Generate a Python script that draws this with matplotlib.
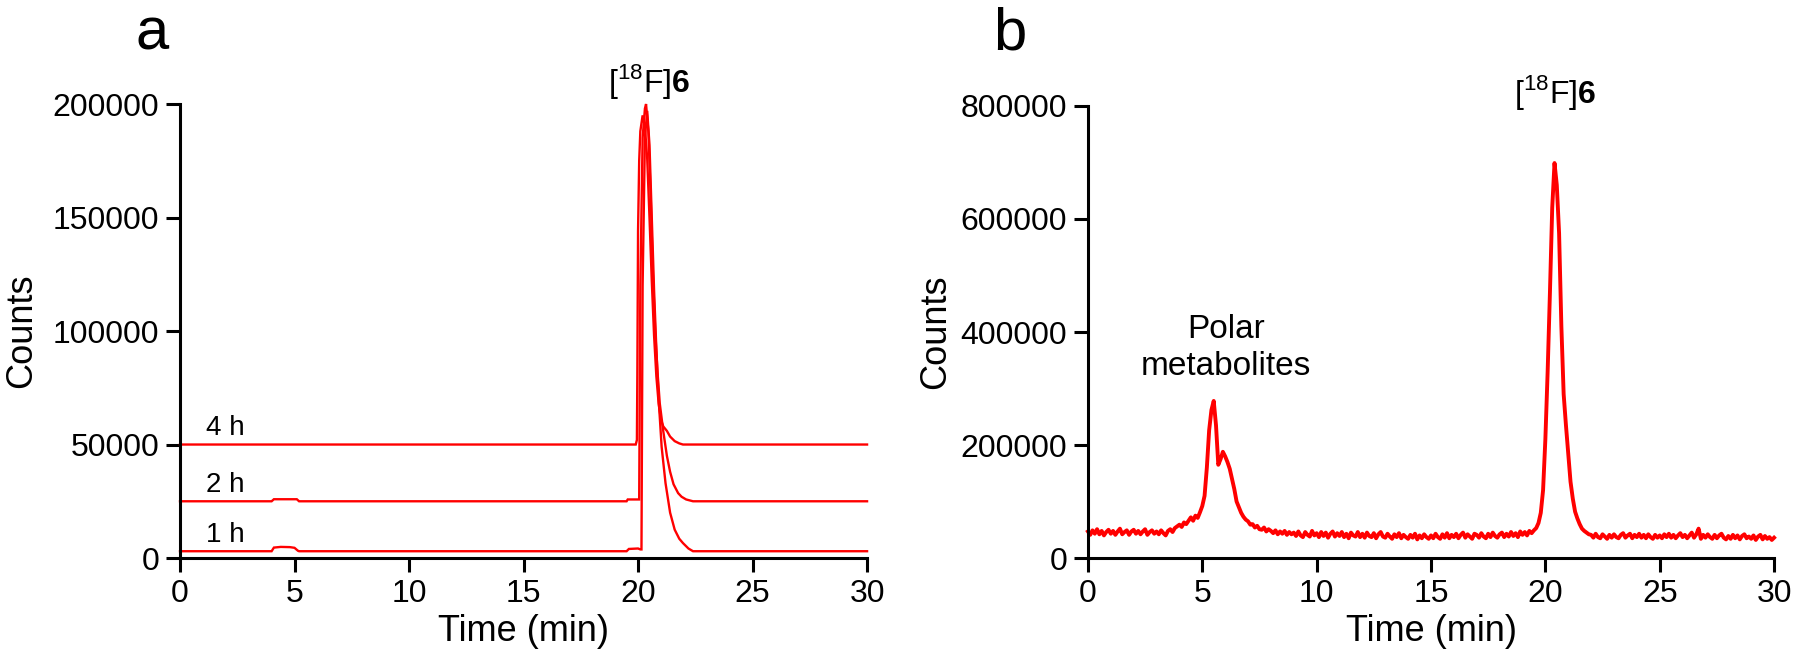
import numpy as np
import matplotlib
matplotlib.use('Agg')
import matplotlib.pyplot as plt
from matplotlib.ticker import FuncFormatter

plt.rcParams['font.family'] = ['Liberation Sans', 'DejaVu Sans']
plt.rcParams['mathtext.fontset'] = 'custom'
plt.rcParams['mathtext.rm'] = 'Liberation Sans'
plt.rcParams['mathtext.bf'] = 'Liberation Sans:bold'

RED = '#ff0000'

# panel a: radio-HPLC traces at 1 h, 2 h and 4 h (time in min, counts)
t_1h = [0, 4.0, 4.1, 4.4, 4.8, 5.0, 5.15, 5.2, 19.5, 19.6, 20.0, 20.1, 20.15, 20.2,
        20.3, 20.4, 20.5, 20.6, 20.7, 20.8, 20.9, 21.03, 21.2, 21.4, 21.6, 21.8,
        21.96, 22.2, 22.4, 30]
c_1h = [3000, 3000, 4600, 4900, 4800, 4500, 3200, 3000, 3000, 4000, 4200, 3800, 3800, 120000,
        185000, 197000, 182000, 150000, 118000, 92000, 70000, 49000, 33000, 20000, 12500, 8500,
        6600, 4200, 3000, 3000]

t_2h = [0, 4.0, 4.1, 5.1, 5.2, 19.5, 19.55, 20.05, 20.1, 20.2, 20.3, 20.35, 20.45, 20.55,
        20.65, 20.75, 20.85, 20.95, 21.1, 21.26, 21.4, 21.55, 21.75, 21.9, 22.1, 22.4, 30]
c_2h = [25000, 25000, 25900, 25900, 25000, 25000, 25800, 25800, 120000, 185000, 198000, 200000,
        188000, 160000, 125000, 100000, 82000, 68000, 56000, 45000, 38000, 32500, 28600, 27000,
        25800, 25000, 25000]

t_4h = [0, 19.9, 19.95, 19.97, 20.0, 20.05, 20.1, 20.2, 20.3, 20.4, 20.5, 20.6, 20.7,
        20.8, 20.9, 21.0, 21.1, 21.26, 21.4, 21.6, 21.8, 21.96, 30]
c_4h = [50000, 50000, 52000, 81000, 144000, 175000, 188000, 195000, 190000, 176000, 150000, 122000,
        98000, 80000, 68000, 61000, 58000, 56000, 53500, 51500, 50500, 50000, 50000]

trace_labels = ['1 h', '2 h', '4 h']
trace_baselines = [3000, 25000, 50000]

# panel b: plasma sample trace, sampled every 0.1 min (counts in thousands)
step_b = 0.1
counts_b_k = [
    47, 41, 49, 43, 51, 42, 48, 40, 46, 50,
    43, 48, 41, 47, 52, 42, 46, 49, 41, 47,
    50, 43, 48, 42, 47, 51, 41, 46, 49, 43,
    47, 42, 49, 44, 40, 48, 51, 46, 53, 56,
    59, 55, 63, 60, 66, 72, 66, 75, 71, 81,
    92, 110, 160, 226, 262, 278, 235, 165, 175, 188,
    180, 170, 158, 140, 122, 100, 90, 80, 73, 68,
    65, 59, 60, 54, 57, 51, 50, 54, 47, 51,
    48, 44, 49, 42, 47, 43, 48, 41, 46, 42,
    45, 39, 47, 40, 37, 46, 41, 38, 48, 40,
    44, 37, 46, 39, 45, 36, 43, 47, 38, 44,
    39, 46, 37, 43, 35, 45, 40, 38, 46, 37,
    43, 36, 45, 39, 37, 44, 35, 42, 46, 38,
    36, 43, 38, 34, 42, 37, 44, 35, 41, 37,
    34, 41, 36, 43, 33, 40, 35, 42, 37, 34,
    40, 35, 43, 37, 34, 42, 36, 44, 35, 41,
    37, 43, 35, 41, 45, 36, 42, 38, 34, 43,
    41, 36, 44, 38, 35, 43, 37, 45, 39, 36,
    42, 45, 37, 43, 38, 46, 39, 44, 37, 47,
    41, 46, 40, 48, 44, 49, 53, 62, 80, 120,
    210, 330, 470, 620, 699, 660, 575, 410, 290, 235,
    185, 135, 105, 82, 70, 60, 52, 48, 45, 42,
    41, 36, 43, 37, 35, 42, 38, 34, 41, 36,
    42, 37, 35, 41, 44, 36, 40, 43, 35, 41,
    37, 43, 36, 41, 35, 42, 37, 34, 41, 36,
    40, 35, 42, 37, 43, 36, 41, 35, 40, 44,
    37, 41, 35, 40, 45, 36, 42, 52, 34, 41,
    36, 42, 37, 34, 41, 35, 40, 43, 36, 33,
    39, 34, 41, 35, 40, 33, 39, 42, 35, 38,
    34, 40, 32, 38, 41, 33, 39, 34, 37, 32,
    36,
]
counts_b = np.array(counts_b_k) * 1000
time_b = np.round(np.arange(len(counts_b)) * step_b, 1)

fig = plt.figure(figsize=(18, 6.72), dpi=100)
ax_a = fig.add_axes([0.1, 0.1696, 0.3817, 0.6756])
ax_b = fig.add_axes([0.6044, 0.1696, 0.3812, 0.6727])

for t, c in [(t_1h, c_1h), (t_2h, c_2h), (t_4h, c_4h)]:
    ax_a.plot(t, c, color=RED, lw=1.7, clip_on=False, solid_joinstyle='miter')
for lab, base in zip(trace_labels, trace_baselines):
    ax_a.text(1.15, base + 1600, lab, fontsize=20, ha='left', va='bottom')
ax_a.text(20.48, 210000, r'[$^{18}$F]$\mathbf{6}$', fontsize=23, ha='center', va='center')

ax_b.plot(time_b, counts_b, color=RED, lw=2.8, clip_on=False)
ax_b.text(6.05, 372000, 'Polar\nmetabolites', fontsize=24, ha='center', va='center',
          linespacing=1.25)
ax_b.text(20.42, 823000, r'[$^{18}$F]$\mathbf{6}$', fontsize=23, ha='center', va='center')

fmt = FuncFormatter(lambda v, p: '%d' % v)
for ax, ymax, ystep, pad in [(ax_a, 200000, 50000, 10), (ax_b, 800000, 200000, 5)]:
    ax.set_xlim(0, 30)
    ax.set_ylim(0, ymax)
    ax.set_xticks(np.arange(0, 31, 5))
    ax.set_yticks(np.arange(0, ymax + 1, ystep))
    ax.yaxis.set_major_formatter(fmt)
    for s in ['top', 'right']:
        ax.spines[s].set_visible(False)
    for s in ['left', 'bottom']:
        ax.spines[s].set_linewidth(2.2)
    ax.tick_params(direction='out', length=10, width=2.2, labelsize=23, pad=5)
    ax.set_xlabel('Time (min)', fontsize=26, labelpad=4)
    ax.set_ylabel('Counts', fontsize=26, labelpad=pad)

fig.text(0.0845, 0.95, 'a', fontsize=43, ha='center', va='center')
fig.text(0.561, 0.95, 'b', fontsize=43, ha='center', va='center')

fig.savefig('out.png', dpi=100)
